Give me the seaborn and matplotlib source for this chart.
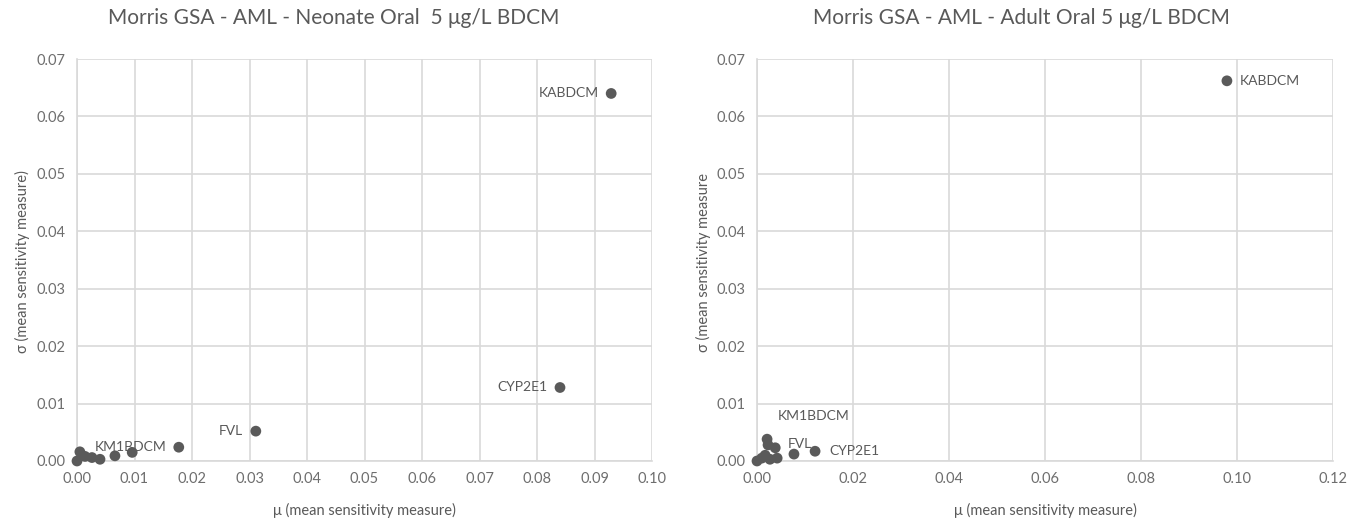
import matplotlib.pyplot as plt
import seaborn as sns
import numpy as np

# Neonate oral (left panel)
neo_mu = [0.0929, 0.0840, 0.0311, 0.0177, 0.0096, 0.0066, 0.0040, 0.0026, 0.0014, 0.0005, 0.0000]
neo_sigma = [0.0640, 0.0128, 0.0052, 0.0024, 0.0015, 0.0009, 0.0003, 0.0006, 0.0008, 0.0016, 0.0000]
neo_labels = ["KABDCM", "CYP2E1", "FVL", "KM1BDCM", "", "", "", "", "", "", ""]

# Adult oral (right panel)
adult_mu = [0.0979, 0.0121, 0.0077, 0.0038, 0.0021, 0.0023, 0.0042, 0.0017, 0.0010, 0.0027, 0.0000]
adult_sigma = [0.0662, 0.0017, 0.0012, 0.0023, 0.0038, 0.0028, 0.0005, 0.0010, 0.0005, 0.0003, 0.0000]
adult_labels = ["KABDCM", "CYP2E1", "", "FVL", "KM1BDCM", "", "", "", "", "", ""]

neo_xticks = np.arange(0, 0.1001, 0.01)
adult_xticks = np.arange(0, 0.1201, 0.02)
yticks = np.arange(0, 0.0701, 0.01)

plt.rcParams['font.family'] = ['Lato', 'DejaVu Sans']

dot_color = '#5a5a5a'
text_color = '#595959'
tick_color = '#6e6e6e'
grid_color = '#d9d9d9'

fig = plt.figure(figsize=(13.64, 5.23), dpi=100)
ax1 = fig.add_axes([77 / 1364, 62 / 523, 575 / 1364, 402 / 523])
ax2 = fig.add_axes([757 / 1364, 62 / 523, 576 / 1364, 402 / 523])


def style_axis(ax, xticks, xmax):
    ax.set_xlim(0, xmax)
    ax.set_ylim(0, 0.07)
    ax.set_xticks(xticks)
    ax.set_yticks(yticks)
    ax.set_xticklabels([f"{v:.2f}" for v in xticks])
    ax.set_yticklabels([f"{v:.2f}" for v in yticks])
    ax.grid(True, color=grid_color, linewidth=1.2)
    ax.set_axisbelow(True)
    for side in ['top', 'right']:
        ax.spines[side].set_visible(False)
    for side in ['left', 'bottom']:
        ax.spines[side].set_color(grid_color)
        ax.spines[side].set_linewidth(1.2)
    ax.tick_params(length=0, labelsize=10.5, colors=tick_color, pad=8)
    ax.set_xlabel('')
    ax.set_ylabel('')


# Left panel
sns.scatterplot(x=neo_mu, y=neo_sigma, ax=ax1, color=dot_color, s=60,
                edgecolor='none', zorder=3, clip_on=False)
style_axis(ax1, neo_xticks, 0.10)
for x, y, lab in zip(neo_mu, neo_sigma, neo_labels):
    if lab:
        ax1.annotate(lab, (x, y), xytext=(-9, 0), textcoords='offset points',
                     ha='right', va='center', fontsize=10, color=text_color, zorder=4)

# Right panel
sns.scatterplot(x=adult_mu, y=adult_sigma, ax=ax2, color=dot_color, s=60,
                edgecolor='none', zorder=3, clip_on=False)
style_axis(ax2, adult_xticks, 0.12)
adult_offsets = {"KABDCM": (9, 0), "CYP2E1": (10, 0), "FVL": (9, 3), "KM1BDCM": (8, 17)}
for x, y, lab in zip(adult_mu, adult_sigma, adult_labels):
    if lab:
        ax2.annotate(lab, (x, y), xytext=adult_offsets[lab], textcoords='offset points',
                     ha='left', va='center', fontsize=10, color=text_color, zorder=4)

# Titles and axis labels
fig.text(334 / 1364, 1 - 18 / 523, 'Morris GSA - AML - Neonate Oral  5 μg/L BDCM',
         ha='center', va='center', fontsize=15, color=text_color)
fig.text(1021 / 1364, 1 - 18 / 523, 'Morris GSA - AML - Adult Oral 5 μg/L BDCM',
         ha='center', va='center', fontsize=15, color=text_color)
fig.text(364 / 1364, 1 - 510 / 523, 'μ (mean sensitivity measure)',
         ha='center', va='center', fontsize=10.5, color=text_color)
fig.text(1045 / 1364, 1 - 510 / 523, 'μ (mean sensitivity measure)',
         ha='center', va='center', fontsize=10.5, color=text_color)
fig.text(22 / 1364, 1 - 262 / 523, 'σ (mean sensitivity measure)',
         ha='center', va='center', rotation=90, fontsize=10.5, color=text_color)
fig.text(703 / 1364, 1 - 262 / 523, 'σ (mean sensitivity measure',
         ha='center', va='center', rotation=90, fontsize=10.5, color=text_color)

fig.savefig('out.png', dpi=100)
